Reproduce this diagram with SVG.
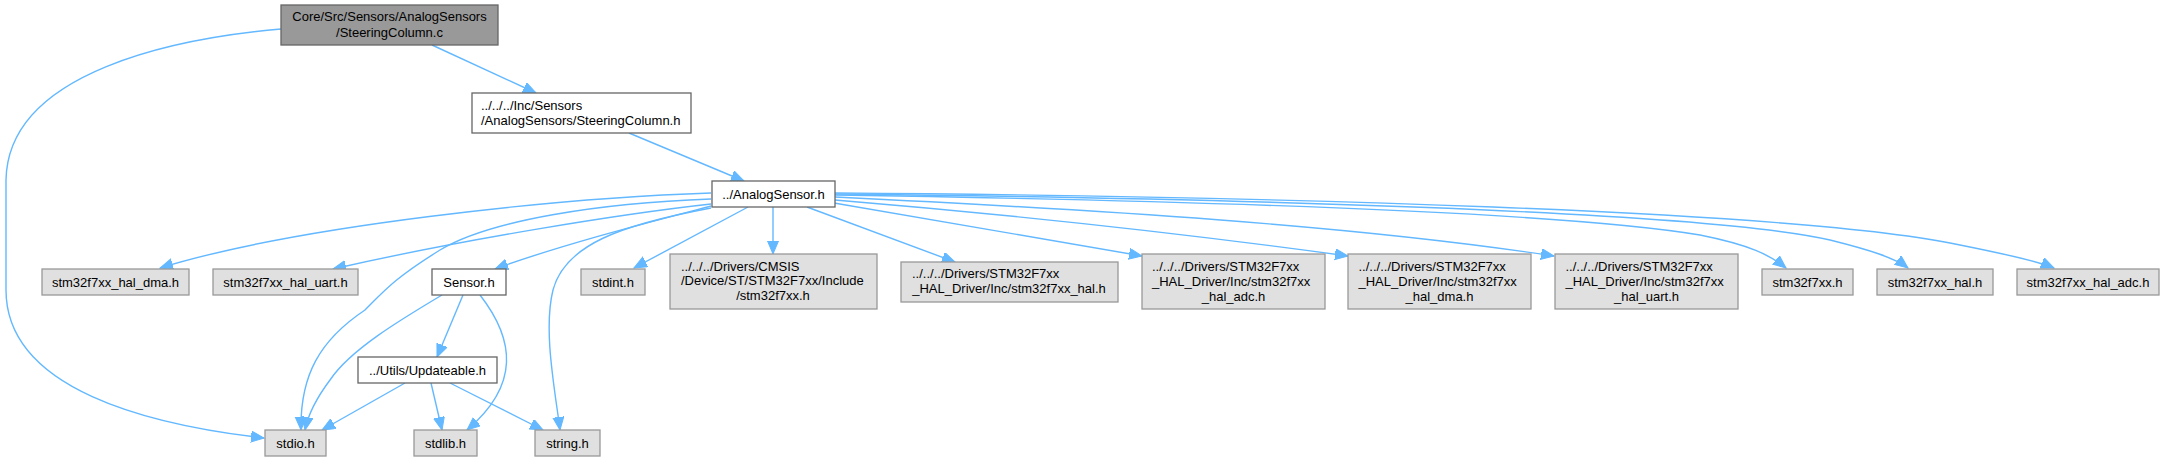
<svg xmlns="http://www.w3.org/2000/svg" width="2165" height="461" viewBox="0 0 2165 461">
<defs>
<style>
text{font-family:"Liberation Sans",Arial,Helvetica,sans-serif;font-size:13px;fill:#000}
.c{text-anchor:middle}
.main rect{fill:#999999;stroke:#666666;stroke-width:1.3}
.w rect{fill:#ffffff;stroke:#666666;stroke-width:1.3}
.g rect{fill:#e0e0e0;stroke:#999999;stroke-width:1.3}
#edges path{fill:none;stroke:#63b8ff;stroke-width:1.4;marker-end:url(#arr)}
</style>
<marker id="arr" markerUnits="userSpaceOnUse" markerWidth="14" markerHeight="12" refX="13" refY="5.5" orient="auto">
<path d="M0,0 L13,5.5 L0,11 z" fill="#63b8ff" stroke="#63b8ff" stroke-width="1"/>
</marker>
</defs>
<rect width="2165" height="461" fill="#ffffff"/>
<g id="edges">
<path d="M432,45 L536,93"/>
<path d="M281,29 C180,38 8,70 6,180 L6,290 C6,390 150,425 264,438"/>
<path d="M629,133 L744,181"/>
<path d="M711,193 C560,198 300,225 160,268"/>
<path d="M711,204 C620,214 460,240 333,269"/>
<path d="M711,199 C600,203 490,220 440,250 C395,278 385,290 365,310 C320,340 300,375 301,430"/>
<path d="M711,206 C650,222 560,245 495,269"/>
<path d="M711,208 C620,225 565,245 553,290 C543,330 555,390 560,430"/>
<path d="M748,207 L634,268"/>
<path d="M773,207 L773,254"/>
<path d="M807,207 L955,262"/>
<path d="M834,203 L1142,256"/>
<path d="M835,200 Q1100,222 1348,256"/>
<path d="M835,197 C1100,210 1350,225 1554,256"/>
<path d="M835,195 C1150,200 1550,210 1700,235 C1750,245 1770,255 1786,268"/>
<path d="M835,194 C1200,198 1700,210 1830,240 C1870,250 1895,258 1908,268"/>
<path d="M835,193 C1250,196 1800,210 1960,245 C2010,255 2040,262 2054,268"/>
<path d="M442,295 C400,320 350,350 330,380 C315,400 308,415 305,430"/>
<path d="M463,295 L437,357"/>
<path d="M480,295 C515,340 520,385 467,430"/>
<path d="M405,383 L322,430"/>
<path d="M431,383 L442,430"/>
<path d="M450,383 L543,430"/>
</g>
<g id="node_steeringcolumn_c" class="main"><rect x="281" y="5" width="217" height="40"/><text class="c" x="389.5" y="21.2">Core/Src/Sensors/AnalogSensors</text><text class="c" x="389.5" y="36.8">/SteeringColumn.c</text></g>
<g id="node_steeringcolumn_h" class="w"><rect x="472" y="93" width="219" height="40"/><text x="481" y="109.5">../../../Inc/Sensors</text><text x="481" y="125.2">/AnalogSensors/SteeringColumn.h</text></g>
<g id="node_analogsensor_h" class="w"><rect x="712" y="181" width="123" height="26"/><text class="c" x="773.5" y="198.5">../AnalogSensor.h</text></g>
<g id="node_hal_dma" class="g"><rect x="42" y="269" width="147" height="26"/><text class="c" x="115.5" y="286.5">stm32f7xx_hal_dma.h</text></g>
<g id="node_hal_uart" class="g"><rect x="213" y="269" width="145" height="26"/><text class="c" x="285.5" y="286.5">stm32f7xx_hal_uart.h</text></g>
<g id="node_sensor_h" class="w"><rect x="432" y="269" width="74" height="26"/><text class="c" x="469" y="286.5">Sensor.h</text></g>
<g id="node_stdint_h" class="g"><rect x="581" y="269" width="64" height="26"/><text class="c" x="613" y="286.5">stdint.h</text></g>
<g id="node_cmsis" class="g"><rect x="670" y="254" width="207" height="55"/><text x="681" y="270.8">../../../Drivers/CMSIS</text><text x="681" y="285.2">/Device/ST/STM32F7xx/Include</text><text class="c" x="773" y="299.8">/stm32f7xx.h</text></g>
<g id="node_drv_hal" class="g"><rect x="901" y="262" width="217" height="40"/><text x="912" y="277.8">../../../Drivers/STM32F7xx</text><text class="c" x="1009" y="292.5">_HAL_Driver/Inc/stm32f7xx_hal.h</text></g>
<g id="node_drv_hal_adc" class="g"><rect x="1142" y="254" width="183" height="55"/><text x="1152" y="271">../../../Drivers/STM32F7xx</text><text x="1152" y="285.5">_HAL_Driver/Inc/stm32f7xx</text><text class="c" x="1233.5" y="300.5">_hal_adc.h</text></g>
<g id="node_drv_hal_dma" class="g"><rect x="1348" y="254" width="183" height="55"/><text x="1358.5" y="271">../../../Drivers/STM32F7xx</text><text x="1358.5" y="285.5">_HAL_Driver/Inc/stm32f7xx</text><text class="c" x="1439.5" y="300.5">_hal_dma.h</text></g>
<g id="node_drv_hal_uart" class="g"><rect x="1555" y="254" width="183" height="55"/><text x="1565.5" y="271">../../../Drivers/STM32F7xx</text><text x="1565.5" y="285.5">_HAL_Driver/Inc/stm32f7xx</text><text class="c" x="1646.5" y="300.5">_hal_uart.h</text></g>
<g id="node_stm32f7xx_h" class="g"><rect x="1762" y="269" width="91" height="26"/><text class="c" x="1807.5" y="286.5">stm32f7xx.h</text></g>
<g id="node_stm32f7xx_hal_h" class="g"><rect x="1877" y="269" width="116" height="26"/><text class="c" x="1935" y="286.5">stm32f7xx_hal.h</text></g>
<g id="node_stm32f7xx_hal_adc_h" class="g"><rect x="2017" y="269" width="142" height="26"/><text class="c" x="2088" y="286.5">stm32f7xx_hal_adc.h</text></g>
<g id="node_updateable_h" class="w"><rect x="358" y="357" width="139" height="26"/><text class="c" x="427.5" y="374.5">../Utils/Updateable.h</text></g>
<g id="node_stdio_h" class="g"><rect x="265" y="430" width="61" height="26"/><text class="c" x="295.5" y="447.5">stdio.h</text></g>
<g id="node_stdlib_h" class="g"><rect x="414" y="430" width="63" height="26"/><text class="c" x="445.5" y="447.5">stdlib.h</text></g>
<g id="node_string_h" class="g"><rect x="535" y="430" width="65" height="26"/><text class="c" x="567.5" y="447.5">string.h</text></g>
</svg>
